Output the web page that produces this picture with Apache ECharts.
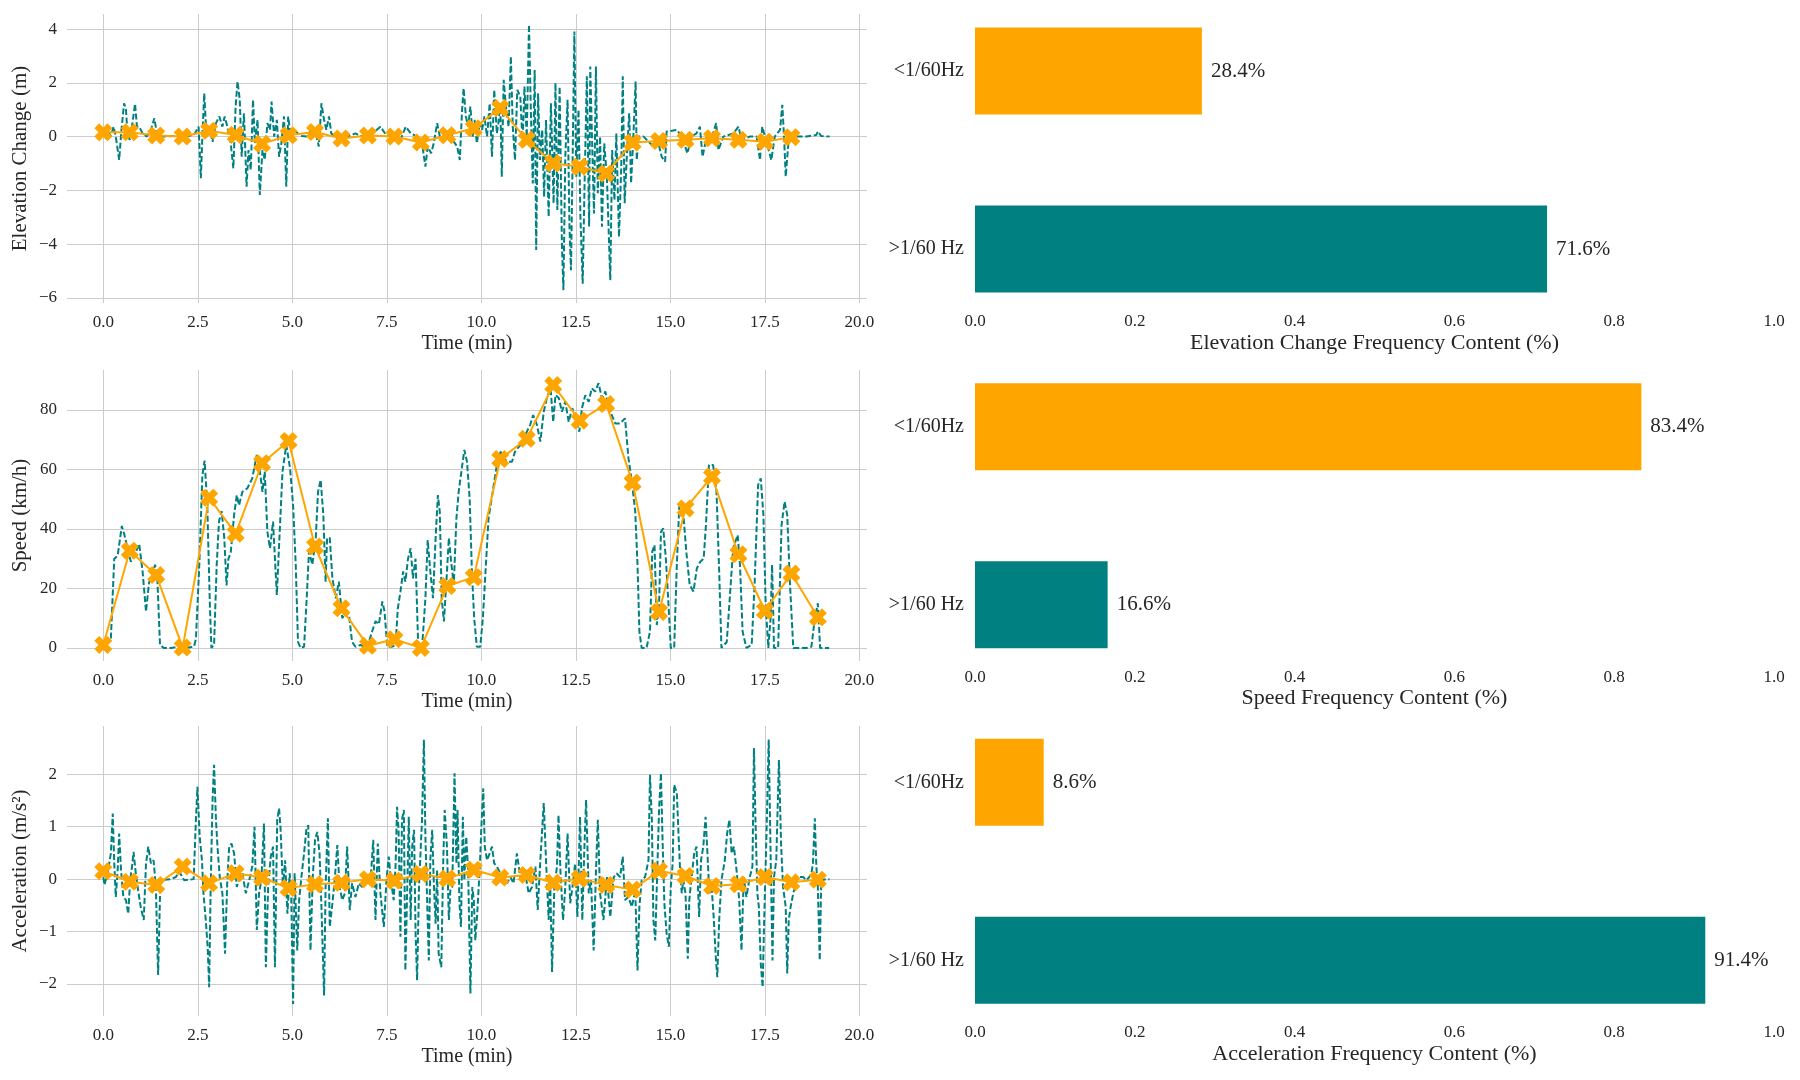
<!DOCTYPE html>
<html>
<head>
<meta charset="utf-8">
<script src="https://cdn.jsdelivr.net/npm/echarts@6/dist/echarts.min.js"></script>
<style>html,body{margin:0;padding:0;background:#fff}#c{width:1800px;height:1080px}</style>
</head>
<body>
<div id="c"></div>
<script>
// ---------- data ----------
const timeTicks = [0, 2.5, 5, 7.5, 10, 12.5, 15, 17.5, 20];
const elevTicks = [-6, -4, -2, 0, 2, 4];
const speedTicks = [0, 20, 40, 60, 80];
const accelTicks = [-2, -1, 0, 1, 2];

const bandLabels = ['>1/60 Hz', '<1/60Hz'];
const elevShare = [0.716, 0.284];
const speedShare = [0.166, 0.834];
const accelShare = [0.914, 0.086];

const lowTimes = [0.0,0.7,1.4,2.1,2.8,3.5,4.2,4.9,5.6,6.3,7.0,7.7,8.4,9.1,9.8,10.5,11.2,11.9,12.6,13.3,14.0,14.7,15.4,16.1,16.8,17.5,18.2,18.9];
const elevLow = [0.16,0.16,0.04,0.0,0.22,0.06,-0.27,0.05,0.17,-0.07,0.04,0.0,-0.22,0.05,0.31,1.06,-0.12,-0.99,-1.12,-1.37,-0.22,-0.16,-0.12,-0.06,-0.12,-0.19,-0.02];
const speedLow = [1,32.7,24.5,0.1,50.5,38.4,62.1,69.6,34.1,13.3,0.7,2.9,0,20.8,23.8,63.5,70.3,88.4,76.4,82.0,55.6,12.1,46.9,57.6,31.5,12.5,25.0,10.3];
const accelLow = [0.15,-0.05,-0.11,0.24,-0.08,0.11,0.03,-0.17,-0.10,-0.07,0.0,-0.03,0.10,0.01,0.18,0.03,0.08,-0.07,0.01,-0.11,-0.20,0.16,0.06,-0.13,-0.10,0.04,-0.06,-0.01];

const elevRaw = [[0,0.1],[0.11,0.25],[0.2,0],[0.27,0.37],[0.33,0],[0.42,-0.87],[0.48,0.25],[0.55,1.24],[0.6,1.0],[0.64,0.12],[0.7,-0.12],[0.77,0.5],[0.84,1.22],[0.89,0.37],[0.95,0.37],[1.04,0.12],[1.15,0],[1.26,0.25],[1.35,0.68],[1.43,0.02],[1.61,0],[1.88,0.02],[2.14,0],[2.4,0.06],[2.52,0.37],[2.58,-1.55],[2.62,0],[2.67,1.61],[2.73,0],[2.8,0.37],[2.89,-0.19],[2.98,0.5],[3.07,0.75],[3.15,0.37],[3.21,0.75],[3.28,0.37],[3.37,-0.25],[3.44,-1.18],[3.5,1.12],[3.55,2.05],[3.61,1.37],[3.66,-0.75],[3.72,0.87],[3.79,-1.86],[3.84,-0.5],[3.9,-1.24],[3.96,1.37],[4.01,-0.25],[4.08,0.62],[4.14,-2.17],[4.21,-0.5],[4.27,-0.87],[4.34,0.5],[4.41,0.25],[4.45,1.3],[4.52,0],[4.59,0.62],[4.65,-0.75],[4.71,-0.25],[4.78,0.75],[4.84,-1.86],[4.89,0.75],[4.96,0],[5.04,0.25],[5.22,0.02],[5.4,0],[5.53,0.37],[5.62,0.12],[5.7,-0.37],[5.77,1.24],[5.84,0.62],[5.9,0.25],[5.97,0.75],[6.03,0.12],[6.19,-0.06],[6.45,0],[6.67,0.12],[6.8,0.02],[7.07,0.06],[7.33,0.37],[7.46,0.1],[7.6,0.02],[7.82,-0.25],[8.0,0.37],[8.13,0.12],[8.3,0],[8.43,-0.25],[8.52,-1.12],[8.58,-0.37],[8.67,-0.62],[8.74,-0.25],[8.83,0.5],[8.92,-0.12],[9.05,0.12],[9.18,0.25],[9.27,-0.19],[9.36,-0.37],[9.43,-0.87],[9.49,1.0],[9.53,1.8],[9.59,0.75],[9.65,0.37],[9.71,1.12],[9.77,0],[9.82,0.62],[9.88,-0.25],[9.96,0.5],[10.02,0.25],[10.08,0.75],[10.15,0],[10.22,1.24],[10.28,-0.75],[10.34,1.74],[10.41,0.12],[10.45,0.5],[10.5,1.24],[10.54,-1.49],[10.59,2.11],[10.65,1.12],[10.72,0.37],[10.78,2.98],[10.83,0.37],[10.89,-0.87],[10.95,1.74],[11.03,1.49],[11.09,-0.25],[11.14,1.86],[11.2,0],[11.26,4.16],[11.31,0.87],[11.36,-1.74],[11.41,2.48],[11.45,-4.22],[11.5,1.61],[11.55,-0.87],[11.61,0.25],[11.66,-2.24],[11.71,0.62],[11.78,-2.98],[11.84,1.24],[11.91,-2.48],[11.96,1.99],[12.01,-2.73],[12.07,1.86],[12.13,-3.98],[12.17,-5.71],[12.22,-0.75],[12.28,1.37],[12.33,-3.35],[12.37,-4.97],[12.42,-0.25],[12.46,3.91],[12.51,-1.49],[12.57,1.0],[12.62,-2.98],[12.68,-5.47],[12.73,-1.74],[12.79,2.24],[12.85,-3.35],[12.88,2.61],[12.93,-0.25],[12.98,-2.86],[13.03,2.61],[13.08,-2.11],[13.14,0],[13.19,-3.35],[13.25,-0.25],[13.32,-1.49],[13.41,-5.34],[13.46,-0.5],[13.52,-2.36],[13.57,0.12],[13.64,-3.73],[13.7,-1.12],[13.74,2.24],[13.79,-2.48],[13.85,-0.62],[13.91,0.87],[13.96,-1.74],[14.02,0],[14.08,2.05],[14.11,-0.87],[14.16,0],[14.29,0],[14.55,-0.37],[14.64,0],[14.77,-0.75],[14.86,-0.93],[14.9,0.19],[15.17,0.25],[15.3,0],[15.45,-0.62],[15.56,0],[15.69,0.12],[15.78,0.37],[15.85,-0.75],[15.96,0],[16.09,-0.06],[16.21,0.5],[16.27,-0.5],[16.4,0],[16.67,0.12],[16.8,0.37],[16.88,-0.12],[17.1,0],[17.28,0],[17.37,-0.87],[17.43,0.37],[17.5,0],[17.67,-0.87],[17.76,0],[17.9,0.25],[17.96,1.18],[18.01,-0.12],[18.05,-1.49],[18.12,-0.25],[18.25,0],[18.6,0],[18.86,0.06],[18.9,0.19],[18.99,0.02],[19.21,0]];

const speedRaw = [[0,2],[0.2,3],[0.29,30],[0.38,31],[0.49,41],[0.55,38.5],[0.64,33.5],[0.73,29],[0.82,31],[0.95,35],[1.04,25.6],[1.13,12.2],[1.21,22],[1.3,24.5],[1.37,28],[1.43,23],[1.5,1],[1.6,0],[1.8,0],[2.0,0.5],[2.2,0],[2.4,0.5],[2.45,3],[2.54,28],[2.62,58],[2.68,63],[2.75,48],[2.82,14],[2.86,0],[2.93,1],[3.0,28],[3.06,42.5],[3.13,46],[3.2,37],[3.26,21],[3.31,30],[3.37,32],[3.46,44.7],[3.53,51.4],[3.59,48],[3.68,52.5],[3.81,53.7],[3.94,57],[4.06,64.9],[4.12,61.5],[4.21,52.5],[4.27,59.3],[4.34,39],[4.41,33.5],[4.49,42.5],[4.54,30],[4.59,17.8],[4.65,34.6],[4.74,59.3],[4.84,68.2],[4.94,60.4],[5.02,48],[5.09,28],[5.15,2],[5.22,0],[5.31,0.4],[5.38,16.7],[5.44,32.4],[5.53,28],[5.62,37],[5.68,52.5],[5.75,56.5],[5.82,44.7],[5.88,22.3],[5.92,37],[5.99,37],[6.06,23.4],[6.15,16.7],[6.23,22.3],[6.32,10],[6.41,12.2],[6.5,11],[6.58,2],[6.67,0.4],[6.8,1],[6.98,0],[7.11,5.5],[7.2,9],[7.29,8],[7.38,15.6],[7.44,12.2],[7.51,0.4],[7.64,0.4],[7.73,1],[7.79,13.3],[7.86,19],[7.93,25.7],[7.99,22.3],[8.06,30],[8.13,33.5],[8.19,23.4],[8.26,30],[8.33,0.4],[8.43,0],[8.52,16.7],[8.58,36.3],[8.65,25.7],[8.72,16.7],[8.79,37],[8.85,51.4],[8.9,45.8],[8.95,16.7],[9.01,8.9],[9.08,23.4],[9.14,37],[9.2,29],[9.27,21.2],[9.34,43.6],[9.4,52.5],[9.46,58.2],[9.55,66.6],[9.62,62.6],[9.69,50.3],[9.75,25.7],[9.81,10],[9.88,0.4],[9.97,0.4],[10.04,10],[10.12,28],[10.19,43.6],[10.3,52.5],[10.41,61.5],[10.51,66],[10.63,63.2],[10.72,62.6],[10.81,62.6],[10.89,66],[11.03,68.2],[11.16,71.6],[11.29,75],[11.37,78.3],[11.47,75],[11.56,69.4],[11.65,79.4],[11.73,83.9],[11.83,87.3],[11.9,76],[11.96,85],[12.05,84],[12.13,79.4],[12.22,82.8],[12.31,76],[12.4,80.6],[12.48,78.3],[12.59,72.7],[12.66,80.6],[12.75,85],[12.84,82.8],[12.92,87.3],[13.01,86.2],[13.1,89],[13.19,83.9],[13.28,86.2],[13.37,80.6],[13.45,78.3],[13.54,75.5],[13.67,75.5],[13.8,77.2],[13.89,63.8],[13.98,56],[14.07,45.8],[14.13,28],[14.18,5.5],[14.24,0],[14.37,0],[14.46,5.5],[14.52,32.4],[14.58,34.6],[14.64,7.7],[14.7,14.5],[14.75,39],[14.81,40.2],[14.88,30],[14.95,14.5],[15.01,0],[15.1,0],[15.17,28],[15.24,49.2],[15.33,47],[15.42,32.4],[15.51,21.2],[15.61,19],[15.7,26.8],[15.79,29],[15.88,30],[15.94,41.3],[16.02,61.5],[16.13,61.5],[16.22,52.5],[16.29,25.7],[16.35,0],[16.49,2],[16.57,16.7],[16.66,33.5],[16.78,38],[16.84,28],[16.91,5.5],[17.01,0],[17.15,1],[17.23,22.3],[17.32,54.8],[17.39,57],[17.46,44.7],[17.52,14.5],[17.59,0],[17.65,10],[17.69,28],[17.74,0],[17.85,0],[17.94,41.3],[18.02,49.2],[18.09,44.7],[18.16,22.3],[18.25,0],[18.42,0],[18.6,0],[18.73,0.4],[18.82,10],[18.9,15],[18.96,0],[19.2,0]];

const accelRaw = [[0,0.04],[0.03,-0.11],[0.11,0.1],[0.2,0.49],[0.25,1.25],[0.29,0.3],[0.33,-0.34],[0.38,0.17],[0.42,0.87],[0.47,0.17],[0.53,-0.34],[0.6,-0.4],[0.66,-0.66],[0.71,-0.02],[0.76,0.24],[0.8,0.52],[0.86,0.11],[0.92,-0.21],[0.99,-0.53],[1.07,-0.78],[1.13,0.3],[1.19,0.62],[1.26,0.3],[1.33,0.36],[1.39,-0.15],[1.45,-1.83],[1.51,-0.02],[1.61,-0.01],[1.79,0],[1.92,0.04],[2.01,0.14],[2.14,-0.02],[2.27,-0.01],[2.39,0],[2.45,1.13],[2.49,1.76],[2.55,0.81],[2.61,0.36],[2.65,-0.27],[2.71,-0.78],[2.76,-1.29],[2.8,-2.06],[2.84,-0.15],[2.89,1.51],[2.93,2.18],[2.98,1.13],[3.02,0.62],[3.08,0.04],[3.15,-0.27],[3.22,-1.42],[3.28,-0.02],[3.33,0.62],[3.39,0.68],[3.46,0.49],[3.53,-0.15],[3.59,-0.02],[3.68,0.11],[3.77,-0.27],[3.86,-0.02],[3.94,0.24],[4.0,1.0],[4.06,-0.97],[4.12,-0.27],[4.18,-0.02],[4.25,1.06],[4.3,-1.68],[4.36,-0.15],[4.43,0.43],[4.49,0.62],[4.54,-1.68],[4.6,1.13],[4.65,1.35],[4.69,0.94],[4.75,-0.15],[4.81,0.36],[4.87,-0.66],[4.93,0.11],[4.97,-0.27],[5.02,-2.38],[5.06,0.11],[5.13,-1.36],[5.18,-0.4],[5.24,0.04],[5.31,0.49],[5.37,0.94],[5.42,1.03],[5.48,-1.36],[5.54,0.04],[5.6,0.75],[5.66,0.9],[5.72,0.49],[5.77,-0.53],[5.84,-2.22],[5.88,-0.15],[5.94,1.16],[5.99,-0.91],[6.06,-0.46],[6.12,-0.02],[6.19,0.65],[6.25,-0.15],[6.32,-0.4],[6.39,-0.27],[6.45,0.62],[6.52,-0.59],[6.58,-0.08],[6.67,-0.34],[6.76,-0.08],[6.85,-0.15],[6.94,0.04],[7.07,-0.02],[7.14,0.75],[7.2,-0.78],[7.26,0.68],[7.33,-0.27],[7.42,-0.91],[7.49,-0.02],[7.55,0.43],[7.61,-0.02],[7.68,-0.4],[7.73,0.24],[7.77,1.38],[7.81,0.94],[7.86,-1.1],[7.9,1.13],[7.95,1.32],[7.99,-1.74],[8.04,-0.15],[8.08,1.19],[8.13,-0.78],[8.17,0.62],[8.22,0.94],[8.26,-1.04],[8.3,-1.93],[8.35,-0.15],[8.39,0.49],[8.43,1.13],[8.48,2.66],[8.52,0.81],[8.56,-0.27],[8.61,-1.55],[8.65,0.36],[8.7,0.94],[8.74,-0.02],[8.79,-0.85],[8.83,0.17],[8.87,-1.42],[8.94,-1.68],[8.99,0.3],[9.03,1.32],[9.09,0.62],[9.14,-0.78],[9.18,-0.21],[9.23,-0.15],[9.29,2.02],[9.34,0.3],[9.37,1.32],[9.42,-0.46],[9.46,-0.91],[9.51,1.19],[9.55,-0.02],[9.6,0.81],[9.65,0.17],[9.71,-2.18],[9.76,-0.15],[9.8,-0.4],[9.84,-1.17],[9.89,-0.66],[9.96,0.24],[10.0,1.0],[10.05,1.73],[10.09,0.62],[10.15,0.36],[10.22,0.49],[10.28,0.62],[10.34,0.3],[10.41,0.24],[10.5,0.11],[10.59,-0.02],[10.68,-0.08],[10.77,0.04],[10.85,-0.08],[10.94,0.49],[11.03,0.04],[11.1,-0.02],[11.16,0.11],[11.25,-0.27],[11.34,-0.15],[11.43,0.24],[11.49,-0.59],[11.56,0.36],[11.65,1.45],[11.71,0.36],[11.78,-0.78],[11.82,-0.02],[11.87,-1.77],[11.93,-0.15],[12.0,0.24],[12.04,1.22],[12.09,0.17],[12.16,-0.78],[12.22,-0.15],[12.28,0.87],[12.35,-0.46],[12.41,-0.15],[12.48,0.3],[12.54,-0.72],[12.61,1.19],[12.67,-0.78],[12.72,0.49],[12.77,1.51],[12.84,-0.27],[12.9,-0.02],[12.97,-1.36],[13.03,0.11],[13.08,1.13],[13.14,-0.27],[13.23,-0.78],[13.32,0.04],[13.41,-0.72],[13.5,0.04],[13.58,0.11],[13.67,0.04],[13.74,0.43],[13.8,-0.4],[13.89,-0.34],[13.98,-0.53],[14.07,-0.21],[14.13,-1.74],[14.18,-0.53],[14.24,-0.02],[14.33,0.04],[14.42,0.36],[14.46,1.99],[14.51,1.13],[14.55,-0.78],[14.6,-1.17],[14.64,-0.15],[14.7,1.32],[14.75,2.02],[14.79,0.81],[14.84,-0.46],[14.9,-1.04],[14.96,-1.29],[15.01,-0.15],[15.06,0.3],[15.1,1.8],[15.17,1.64],[15.21,0.94],[15.26,0.11],[15.3,-0.27],[15.34,-0.02],[15.4,-0.27],[15.46,-1.52],[15.5,-0.4],[15.56,0.04],[15.63,0.49],[15.69,0.62],[15.76,-0.72],[15.81,0.36],[15.87,0.62],[15.93,1.19],[15.98,0.49],[16.03,-0.27],[16.09,-0.15],[16.15,-0.78],[16.2,-1.48],[16.24,-1.87],[16.29,-0.78],[16.35,-0.02],[16.44,0.36],[16.5,0.87],[16.56,1.13],[16.62,0.49],[16.68,0.62],[16.75,0.17],[16.82,-0.4],[16.88,-1.36],[16.94,0.04],[17.01,-0.34],[17.1,0.04],[17.17,0.24],[17.21,2.5],[17.25,1.13],[17.3,-0.27],[17.34,-0.53],[17.39,-1.61],[17.44,-2.06],[17.48,-0.78],[17.54,0.81],[17.6,2.66],[17.65,0.49],[17.7,-1.55],[17.74,0.04],[17.8,0.36],[17.87,2.27],[17.93,0.62],[17.98,-0.15],[18.05,-0.53],[18.09,-1.8],[18.13,-0.78],[18.18,-0.53],[18.25,-0.27],[18.34,-0.02],[18.42,0.04],[18.51,0.04],[18.6,-0.02],[18.67,0.04],[18.73,0.11],[18.77,0.3],[18.82,1.16],[18.86,0.24],[18.9,-0.15],[18.95,-1.55],[18.99,-0.02],[19.13,0],[19.21,0]];

// ---------- styling / layout ----------
const TEAL = '#008080', ORANGE = '#FFA500', TXT = '#262626', GRID = '#cccccc';
const FONT = 'Liberation Serif';
const X_MARK = 'path://M0,2.7 L2.7,0 L5,2.3 L7.3,0 L10,2.7 L7.7,5 L10,7.3 L7.3,10 L5,7.7 L2.7,10 L0,7.3 L2.3,5 Z';

const rows = [
  {top: 14, h: 289, yMin: -6.19, yMax: 4.56, ticks: elevTicks, yName: 'Elevation Change (m)', raw: elevRaw, low: elevLow, share: elevShare, bName: 'Elevation Change Frequency Content (%)'},
  {top: 370, h: 291, yMin: -4.4, yMax: 93.45, ticks: speedTicks, yName: 'Speed (km/h)', raw: speedRaw, low: speedLow, share: speedShare, bName: 'Speed Frequency Content (%)'},
  {top: 726, h: 290, yMin: -2.61, yMax: 2.92, ticks: accelTicks, yName: 'Acceleration (m/s\u00b2)', raw: accelRaw, low: accelLow, share: accelShare, bName: 'Acceleration Frequency Content (%)'}
];
const barCenterTop = [71, 426.7, 782.3];
const BAR_SPAN = 178;

const minusFmt = v => (v < 0 ? '\u2212' + Math.abs(v) : String(v));

const grid = [], xAxis = [], yAxis = [], series = [];
rows.forEach((r, i) => {
  // left line chart
  grid.push({left: 67, width: 800, top: r.top, height: r.h, containLabel: false});
  xAxis.push({
    type: 'value', gridIndex: 2 * i, min: -0.96, max: 20.2,
    name: 'Time (min)', nameLocation: 'middle', nameGap: 31,
    nameTextStyle: {fontFamily: FONT, fontSize: 20, color: TXT},
    axisLine: {show: false},
    axisTick: {show: false, customValues: timeTicks},
    axisLabel: {customValues: timeTicks, formatter: v => v.toFixed(1), fontFamily: FONT, fontSize: 17, color: TXT, margin: 11},
    splitLine: {show: true, lineStyle: {color: GRID, width: 1}}
  });
  yAxis.push({
    type: 'value', gridIndex: 2 * i, min: r.yMin, max: r.yMax,
    name: r.yName, nameLocation: 'middle', nameGap: 36,
    nameTextStyle: {fontFamily: FONT, fontSize: 21, color: TXT},
    axisLine: {show: false},
    axisTick: {show: false, customValues: r.ticks},
    axisLabel: {customValues: r.ticks, formatter: minusFmt, fontFamily: FONT, fontSize: 17, color: TXT, margin: 10},
    splitLine: {show: true, lineStyle: {color: GRID, width: 1}}
  });
  series.push({
    type: 'line', xAxisIndex: 2 * i, yAxisIndex: 2 * i, data: r.raw,
    showSymbol: false, symbol: 'none', smooth: false,
    lineStyle: {color: TEAL, width: 2, type: [6, 2.6]}, z: 2
  });
  series.push({
    type: 'line', xAxisIndex: 2 * i, yAxisIndex: 2 * i,
    data: r.low.map((v, k) => [lowTimes[k], v]),
    symbol: X_MARK, symbolSize: 18, showSymbol: true,
    itemStyle: {color: ORANGE},
    lineStyle: {color: ORANGE, width: 2}, z: 3
  });

  // right bar chart
  grid.push({left: 975, width: 799, top: barCenterTop[i], height: BAR_SPAN, containLabel: false});
  xAxis.push({
    type: 'value', gridIndex: 2 * i + 1, min: 0, max: 1, interval: 0.2,
    name: r.bName, nameLocation: 'middle', nameGap: 83,
    nameTextStyle: {fontFamily: FONT, fontSize: 22, color: TXT},
    axisLine: {show: false}, axisTick: {show: false},
    axisLabel: {formatter: v => v.toFixed(1), fontFamily: FONT, fontSize: 17, color: TXT, margin: 64},
    splitLine: {show: false}
  });
  yAxis.push({
    type: 'category', gridIndex: 2 * i + 1, data: bandLabels, boundaryGap: false,
    axisLine: {show: false}, axisTick: {show: false}, splitLine: {show: false},
    axisLabel: {fontFamily: FONT, fontSize: 20, color: TXT, margin: 11}
  });
  series.push({
    type: 'bar', xAxisIndex: 2 * i + 1, yAxisIndex: 2 * i + 1, clip: false,
    barWidth: 87,
    data: r.share.map((v, k) => ({value: v, itemStyle: {color: k === 0 ? TEAL : ORANGE}})),
    label: {show: true, position: 'right', distance: 9, formatter: p => (p.value * 100).toFixed(1) + '%',
            fontFamily: FONT, fontSize: 21, color: TXT}
  });
});

const chart = echarts.init(document.getElementById('c'), null, {renderer: 'canvas'});
chart.setOption({
  backgroundColor: '#ffffff',
  animation: false,
  textStyle: {fontFamily: FONT},
  grid, xAxis, yAxis, series
});
</script>
</body>
</html>
